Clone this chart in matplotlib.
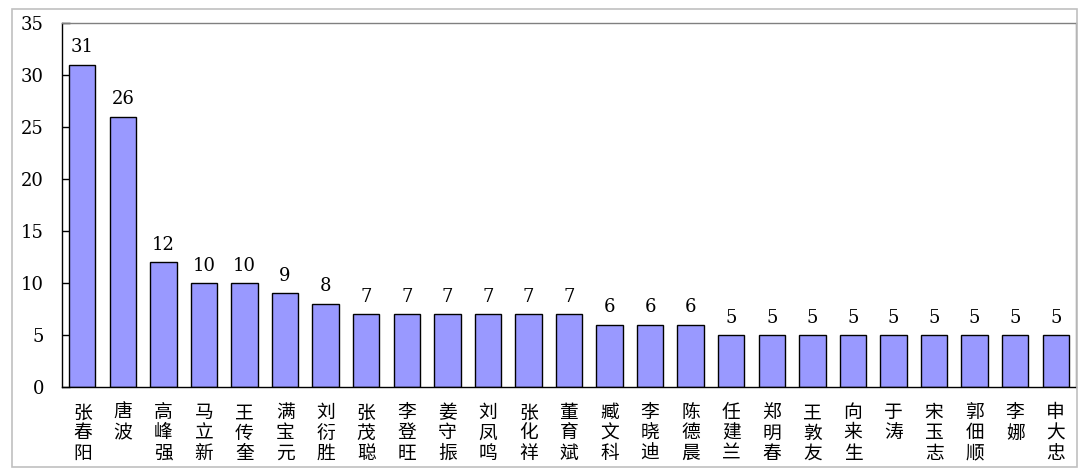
import matplotlib

matplotlib.use("Agg")
import matplotlib.pyplot as plt
from matplotlib.patches import Rectangle

names = [
    "张春阳", "唐波", "高峰强", "马立新", "王传奎", "满宝元", "刘衍胜", "张茂聪",
    "李登旺", "姜守振", "刘凤鸣", "张化祥", "董育斌", "臧文科", "李晓迪", "陈德晨",
    "任建兰", "郑明春", "王敦友", "向来生", "于涛", "宋玉志", "郭佃顺", "李娜", "申大忠",
]
counts = [31, 26, 12, 10, 10, 9, 8, 7, 7, 7, 7, 7, 7, 6, 6, 6, 5, 5, 5, 5, 5, 5, 5, 5, 5]
y_ticks = [0, 5, 10, 15, 20, 25, 30, 35]

NUM_FONT = ["DejaVu Serif"]
CJK_FONT = ["Noto Sans CJK SC", "DejaVu Sans"]

fig = plt.figure(figsize=(10.9, 4.76), dpi=100)
W, H = 1090, 476
ax = fig.add_axes([62 / W, (H - 387) / H, (1076 - 62) / W, (387 - 23) / H])

# outer chart border
fig.patches.append(Rectangle((12 / W, 9 / H), (1077 - 12) / W, (467 - 9) / H,
                             transform=fig.transFigure, fill=False,
                             edgecolor="#c0c0c0", linewidth=1.2))

x = list(range(len(names)))
ax.bar(x, counts, width=0.65, color="#9999ff", edgecolor="black", linewidth=1.0, zorder=2)
for xi, v in zip(x, counts):
    ax.text(xi, v + 0.8, str(v), ha="center", va="bottom", fontsize=13, family=NUM_FONT)

ax.set_xlim(-0.5, len(names) - 0.5)
ax.set_ylim(0, 35)
ax.set_yticks(y_ticks)
ax.set_yticklabels([str(t) for t in y_ticks], family=NUM_FONT, fontsize=13)
ax.tick_params(axis="y", direction="in", length=6, width=1, pad=13)

ax.set_xticks(x)
ax.set_xticklabels(["\n".join(n) for n in names], family=CJK_FONT, fontsize=13.5,
                   va="top", linespacing=0.95)
ax.tick_params(axis="x", length=0, pad=11)

ax.spines["left"].set_color("black")
ax.spines["bottom"].set_color("black")
ax.spines["top"].set_color("#808080")
ax.spines["right"].set_color("#808080")
for s in ax.spines.values():
    s.set_linewidth(1.0)

fig.savefig("out.png", dpi=100)
